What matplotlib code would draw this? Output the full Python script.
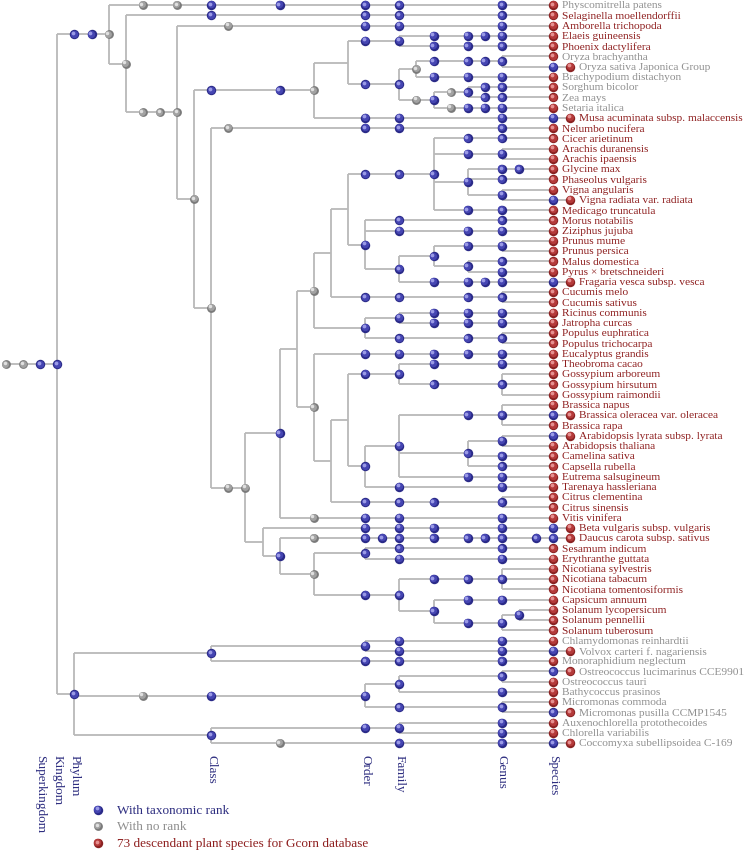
import matplotlib
matplotlib.use("Agg")
import matplotlib.pyplot as plt
from matplotlib.collections import LineCollection
from matplotlib.transforms import offset_copy

# tree nodes: (chain, children). chain tokens = kind + column
# b = with taxonomic rank, g = no rank, n = plain branch point (no dot)
# a child that is a plain string is a species leaf (red dot in species column)
MONOCOTS = ("b12 b16 g18", [
    ("n20", [
        ("b21 b23", [
            ("b25 b27 b28 b29", "Elaeis guineensis"),
            ("b25 b27 b29", "Phoenix dactylifera")]),
        ("b21 b23", [
            ("g24", [
                ("b25 b27 b28 b29", ["Oryza brachyantha", "Oryza sativa Japonica Group"]),
                ("b25 b27 b29", "Brachypodium distachyon")]),
            ("g24 b25", [
                ("g26 b27", [
                    ("b28 b29", "Sorghum bicolor"),
                    ("b28 b29", "Zea mays")]),
                ("g26 b27 b28 b29", "Setaria italica")])])]),
    ("b21 b23 b29", "Musa acuminata subsp. malaccensis")])

FABIDS = ("g18", [
    ("n19", [
        ("n20", [
            ("b21 b23 b25", [
                ("b27 b29", "Cicer arietinum"),
                ("b27 b29", ["Arachis duranensis", "Arachis ipaensis"]),
                ("b27", [
                    ("b29 b30", "Glycine max"),
                    ("b29", "Phaseolus vulgaris"),
                    ("b29", ["Vigna angularis", "Vigna radiata var. radiata"])]),
                ("b27 b29", "Medicago truncatula")]),
            ("b21", [
                ("b23 b29", "Morus notabilis"),
                ("b23 b27 b29", "Ziziphus jujuba"),
                ("b23", [
                    ("b25", [
                        ("b27 b29", ["Prunus mume", "Prunus persica"]),
                        ("b27", [("b29", "Malus domestica"),
                                 ("b29", "Pyrus \u00d7 bretschneideri")])]),
                    ("b25 b27 b28 b29", "Fragaria vesca subsp. vesca")])])]),
        ("b21 b23 b27 b29", ["Cucumis melo", "Cucumis sativus"])]),
    ("b21", [
        ("b23", [("b25 b27 b29", "Ricinus communis"),
                 ("b25 b27 b29", "Jatropha curcas")]),
        ("b23 b27 b29", ["Populus euphratica", "Populus trichocarpa"])])])

MALVIDS = ("g18", [
    ("b21 b23 b25 b27 b29", "Eucalyptus grandis"),
    ("n19", [
        ("n20", [
            ("b21 b23", [
                ("b25 b29", "Theobroma cacao"),
                ("b25 b29", ["Gossypium arboreum", "Gossypium hirsutum", "Gossypium raimondii"])]),
            ("b21", [
                ("b23", [
                    ("b27 b29", ["Brassica napus", "Brassica oleracea var. oleracea", "Brassica rapa"]),
                    ("b27", [
                        ("b29", ["Arabidopsis lyrata subsp. lyrata", "Arabidopsis thaliana"]),
                        ("b29", "Camelina sativa"),
                        ("b29", "Capsella rubella")]),
                    ("b27 b29", "Eutrema salsugineum")]),
                ("b23 b29", "Tarenaya hassleriana")])]),
        ("b21 b23 b25 b29", ["Citrus clementina", "Citrus sinensis"])])])

LAMIIDS = ("g18", [
    ("b21", [("b23 b29", "Sesamum indicum"), ("b23 b29", "Erythranthe guttata")]),
    ("b21 b23", [
        ("b25 b27 b29", ["Nicotiana sylvestris", "Nicotiana tabacum", "Nicotiana tomentosiformis"]),
        ("b25", [
            ("b27 b29", "Capsicum annuum"),
            ("b27 b29", [("b30", ["Solanum lycopersicum", "Solanum pennellii"]),
                         "Solanum tuberosum"])])])])

EUDICOTS = ("g13 g14", [
    ("b16", [
        ("n17", [FABIDS, MALVIDS]),
        ("g18 b21 b23 b29", "Vitis vinifera")]),
    ("n15", [
        ("b21 b23 b25 b29", "Beta vulgaris subsp. vulgaris"),
        ("b16", [
            ("g18 b21 b22 b23 b25 b27 b28 b29 b31", "Daucus carota subsp. sativus"),
            LAMIIDS])])])

STREPTOPHYTA = ("b4 b5 g6", [
    ("g8 g10 b12 b16 b21 b23 b29", "Physcomitrella patens"),
    ("g7", [
        ("b12 b21 b23 b29", "Selaginella moellendorffii"),
        ("g8 g9 g10", [
            ("g13 b21 b23 b29", "Amborella trichopoda"),
            ("g11", [
                MONOCOTS,
                ("g12", [("g13 b21 b23 b29", "Nelumbo nucifera"), EUDICOTS])])])])])

CHLOROPHYTA = ("b4", [
    ("b12", [
        ("b21", [("b23 b29", "Chlamydomonas reinhardtii"),
                 ("b23 b29", "Volvox carteri f. nagariensis")]),
        ("b21 b23 b29", "Monoraphidium neglectum")]),
    ("g8 b12 b21", [
        ("b23", [("b29", ["Ostreococcus lucimarinus CCE9901", "Ostreococcus tauri"]),
                 ("b29", "Bathycoccus prasinos")]),
        ("b23 b29", ["Micromonas commoda", "Micromonas pusilla CCMP1545"])]),
    ("b12", [
        ("b21 b23", [("b29", "Auxenochlorella protothecoides"),
                     ("b29", "Chlorella variabilis")]),
        ("g16 b23 b29", "Coccomyxa subellipsoidea C-169")])])

TREE = ("g0 g1 b2 b3", [STREPTOPHYTA, CHLOROPHYTA])

# leaves below species level (species dot + strain dot)
SUBSPECIES = ["Oryza sativa Japonica Group", "Musa acuminata subsp. malaccensis",
              "Vigna radiata var. radiata", "Fragaria vesca subsp. vesca",
              "Brassica oleracea var. oleracea", "Arabidopsis lyrata subsp. lyrata",
              "Beta vulgaris subsp. vulgaris", "Daucus carota subsp. sativus",
              "Volvox carteri f. nagariensis", "Ostreococcus lucimarinus CCE9901",
              "Micromonas pusilla CCMP1545", "Coccomyxa subellipsoidea C-169"]

# leaves with grey labels
GREY_LABELS = ["Physcomitrella patens", "Oryza brachyantha", "Oryza sativa Japonica Group",
               "Brachypodium distachyon", "Sorghum bicolor", "Zea mays", "Setaria italica",
               "Chlamydomonas reinhardtii", "Volvox carteri f. nagariensis",
               "Monoraphidium neglectum", "Ostreococcus lucimarinus CCE9901",
               "Ostreococcus tauri", "Bathycoccus prasinos", "Micromonas commoda",
               "Micromonas pusilla CCMP1545", "Auxenochlorella protothecoides",
               "Chlorella variabilis", "Coccomyxa subellipsoidea C-169"]

RANK_NAMES = ["Superkingdom", "Kingdom", "Phylum", "Class", "Order", "Family", "Genus", "Species"]
RANK_COLS = [2, 3, 4, 12, 21, 23, 29, 32]

LEGEND = ["With taxonomic rank", "With no rank", "73 descendant plant species for Gcorn database"]

SPECIES_COL = 32
LINE_C = "#b9b9b9"
NAVY = "#2e2e80"
RED_TXT = "#8e1f1f"
GREY_TXT = "#8f8f8f"
DOT_COLORS = {"b": ("#2a2a88", "#4545b2", "#9a9ae6"),
              "g": ("#7a7a7a", "#a2a2a2", "#e0e0e0"),
              "r": ("#8a2222", "#b43a3a", "#e69090")}

segs = []
dots = {"b": [], "g": [], "r": []}
labels = []
row = [0]


def add_leaf(name, px):
    y = row[0]
    row[0] += 1
    end = SPECIES_COL + 1 if name in SUBSPECIES else SPECIES_COL
    segs.append([(px, y), (end, y)])
    if name in SUBSPECIES:
        dots["b"].append((SPECIES_COL, y))
    dots["r"].append((end, y))
    labels.append((end + 0.5, y, name))
    return y


def add_node(item, px):
    if isinstance(item, str):
        return add_leaf(item, px)
    spec, kids = item
    chain = [(t[0], int(t[1:])) for t in spec.split()]
    last = chain[-1][1]
    if isinstance(kids, str):
        kids = [kids]
    ys = [add_node(k, last) for k in kids]
    y = (ys[0] + ys[-1]) / 2
    if len(ys) > 1:
        segs.append([(last, ys[0]), (last, ys[-1])])
    start = chain[0][1] if px is None else px
    segs.append([(start, y), (last, y)])
    for kind, c in chain:
        if kind != "n":
            dots[kind].append((c, y))
    return y


add_node(TREE, None)

fig = plt.figure(figsize=(7.44, 8.53), dpi=100)
ax = fig.add_axes([0, 0, 1, 1])
ax.set_xlim(-6 / 17.1, 738 / 17.1)
ax.set_ylim(847 / 10.25, -6 / 10.25)
ax.axis("off")

ax.add_collection(LineCollection(segs, colors=LINE_C, linewidths=1.3, zorder=1))


def spheres(xs, ys, kind, size=46):
    dark, mid, light = DOT_COLORS[kind]
    ax.scatter(xs, ys, s=size, c=dark, linewidths=0, zorder=3)
    ax.scatter(xs, ys, s=size * 0.62, c=mid, linewidths=0, zorder=4,
               transform=offset_copy(ax.transData, fig=fig, x=-0.6, y=0.6, units="dots"))
    ax.scatter(xs, ys, s=size * 0.16, c=light, linewidths=0, zorder=5,
               transform=offset_copy(ax.transData, fig=fig, x=-1.4, y=1.4, units="dots"))


for kind in ["b", "g", "r"]:
    pts = dots[kind]
    spheres([p[0] for p in pts], [p[1] for p in pts], kind, size=40 if kind == "g" else 46)

for x, y, name in labels:
    ax.text(x, y, name, ha="left", va="center", fontsize=8.2, family="Liberation Serif",
            color=GREY_TXT if name in GREY_LABELS else RED_TXT)

for name, c in zip(RANK_NAMES, RANK_COLS):
    ax.text(c, 73.1, name, rotation=270, ha="center", va="top", fontsize=9.5,
            family="Liberation Serif", color=NAVY)

leg_rows = [78.5, 80.1, 81.75]
leg_colors = [NAVY, GREY_TXT, RED_TXT]
for kind, r, txt, col in zip(["b", "g", "r"], leg_rows, LEGEND, leg_colors):
    spheres([5.38], [r], kind, size=40 if kind == "g" else 46)
    ax.text(6.5, r, txt, ha="left", va="center", fontsize=9.5,
            family="Liberation Serif", color=col)

fig.savefig("out.png", dpi=100)
